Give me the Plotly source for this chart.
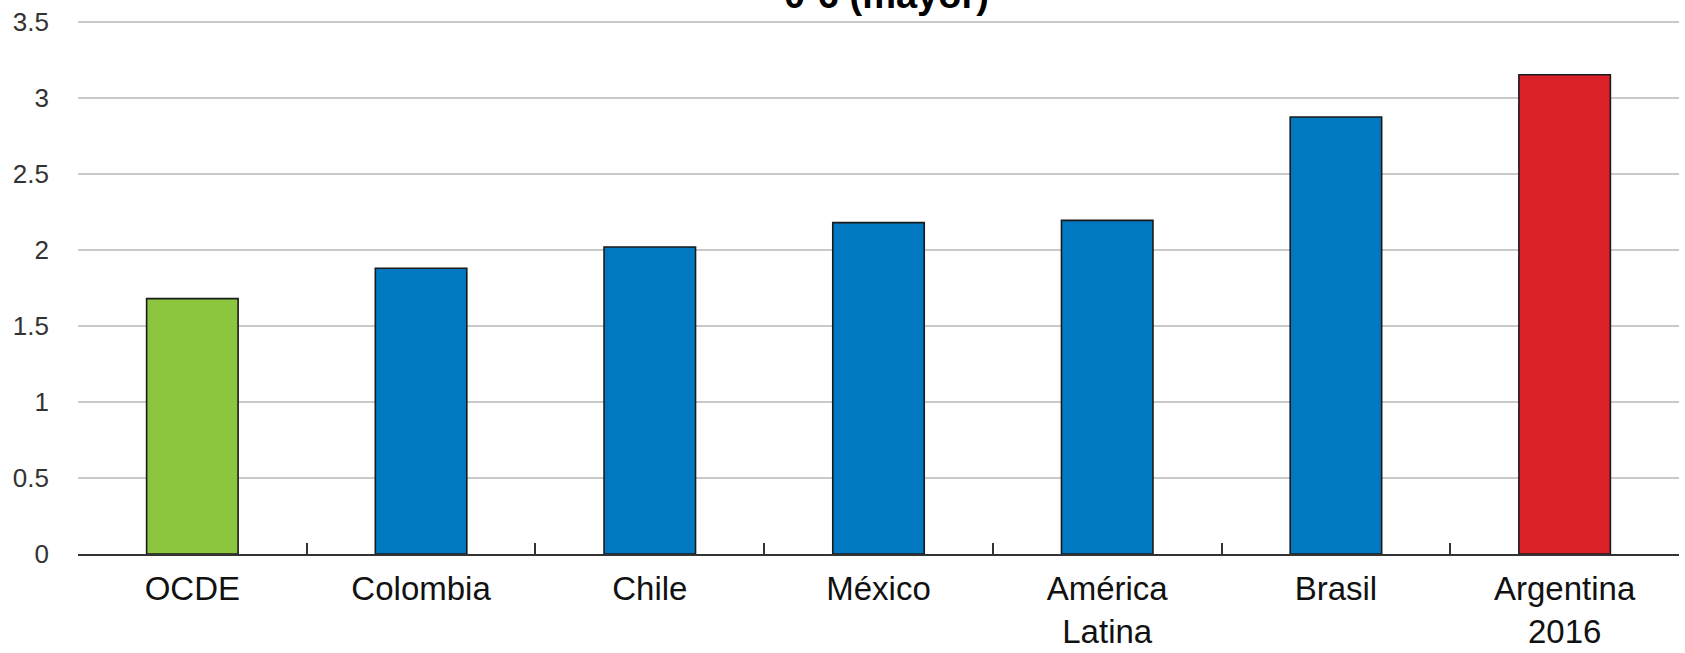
import plotly.graph_objects as go

categories = ["OCDE", "Colombia", "Chile", "México", "América<br>Latina", "Brasil", "Argentina<br>2016"]
values = [1.68, 1.88, 2.02, 2.18, 2.195, 2.875, 3.153]
bar_colors = ["#8CC63F", "#0079C1", "#0079C1", "#0079C1", "#0079C1", "#0079C1", "#DA2128"]
y_ticks = [0, 0.5, 1, 1.5, 2, 2.5, 3, 3.5]
y_tick_text = ["0", "0.5", "1", "1.5", "2", "2.5", "3", "3.5"]
title_text = "0-6 (mayor)"

FONT = "Liberation Sans, Arial, sans-serif"

fig = go.Figure()
fig.add_trace(go.Bar(
    x=categories, y=values,
    marker=dict(color=bar_colors, line=dict(color="#1a1a1a", width=1.6)),
    width=0.4,
    hoverinfo="x+y",
))

fig.update_layout(
    width=1685, height=653,
    margin=dict(l=78, r=6, t=19, b=98.5, pad=0),
    paper_bgcolor="white", plot_bgcolor="white",
    showlegend=False,
    xaxis=dict(
        type="category",
        automargin=False,
        showgrid=False,
        showline=True, linecolor="#333333", linewidth=2,
        ticks="inside", tickson="boundaries", ticklen=11, tickwidth=2, tickcolor="#333333",
        tickfont=dict(family=FONT, size=33, color="#111111"),
        ticklabelstandoff=4,
        zeroline=False,
        fixedrange=True,
    ),
    yaxis=dict(
        range=[0, 3.52],
        automargin=False,
        tickvals=y_ticks, ticktext=y_tick_text,
        showgrid=True, gridcolor="#C9C9C9", gridwidth=2,
        showline=False, ticks="",
        zeroline=False,
        tickfont=dict(family=FONT, size=26, color="#333333"),
        ticklabelstandoff=28,
        fixedrange=True,
    ),
    annotations=[dict(
        text="<b>" + title_text + "</b>",
        xref="paper", yref="paper", x=0.505, y=1,
        xanchor="center", yanchor="bottom", yshift=1,
        showarrow=False,
        font=dict(family=FONT, size=38, color="#000000"),
    )],
)

fig.write_html(
    "out.html",
    config={"displayModeBar": False},
    post_script="document.body.style.margin='0';document.body.style.overflow='hidden';",
)
